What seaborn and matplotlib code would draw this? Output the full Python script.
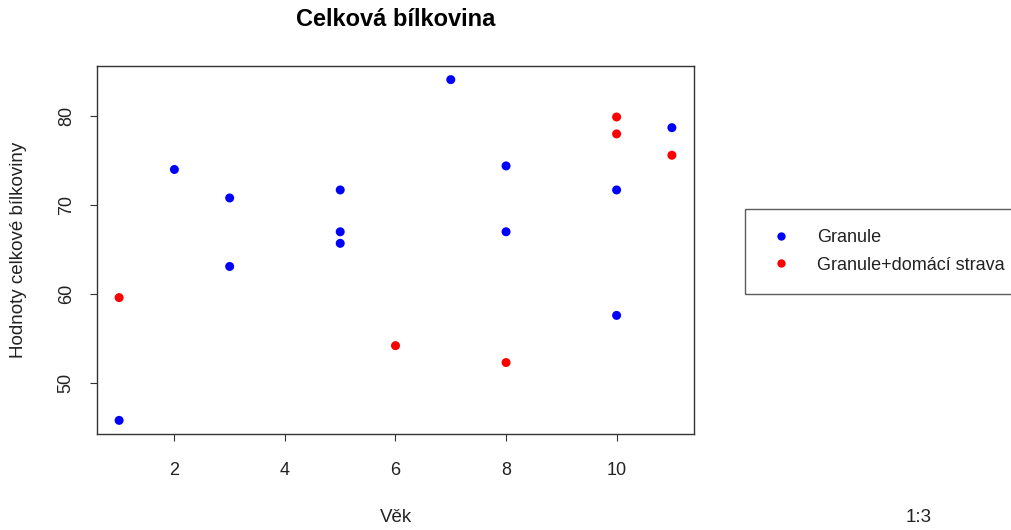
import matplotlib
matplotlib.use("Agg")
import matplotlib.pyplot as plt
from matplotlib.lines import Line2D
import numpy as np
import pandas as pd
import seaborn as sns

# Total protein by age, two diet groups
age_granule = [1, 2, 3, 3, 5, 5, 5, 7, 8, 8, 10, 10, 11]
protein_granule = [45.8, 74.0, 70.8, 63.1, 71.7, 67.0, 65.7, 84.1, 74.4, 67.0, 71.7, 57.6, 78.7]
age_mixed = [1, 6, 8, 10, 10, 11]
protein_mixed = [59.6, 54.2, 52.3, 79.9, 78.0, 75.6]
groups = ["Granule", "Granule+domácí strava"]
colors = ["blue", "red"]
x_ticks = [2, 4, 6, 8, 10]
y_ticks = [50, 60, 70, 80]

df = pd.DataFrame({
    "vek": age_granule + age_mixed,
    "bilkovina": protein_granule + protein_mixed,
    "skupina": [groups[0]] * len(age_granule) + [groups[1]] * len(age_mixed),
})

sns.set_style("white")
plt.rcParams["font.family"] = ["Liberation Sans", "DejaVu Sans"]

W, H = 1012, 530
fig = plt.figure(figsize=(W / 100, H / 100), dpi=100)
ax = fig.add_axes([97 / W, 1 - 434 / H, (694 - 97) / W, (434 - 66) / H])

sns.scatterplot(data=df, x="vek", y="bilkovina", hue="skupina",
                palette=dict(zip(groups, colors)), s=42, linewidth=0,
                legend=False, ax=ax)

# R-style 4% padding on both axes
def padded(v):
    lo, hi = min(v), max(v)
    d = (hi - lo) * 0.04
    return lo - d, hi + d

ax.set_xlim(*padded(df["vek"]))
ax.set_ylim(*padded(df["bilkovina"]))
ax.set_xticks(x_ticks)
ax.set_yticks(y_ticks)
ax.set_xlabel("")
ax.set_ylabel("")
for sp in ax.spines.values():
    sp.set_visible(True)
    sp.set_color("#333333")
    sp.set_linewidth(1.0)
ax.tick_params(axis="both", direction="out", length=5, width=0.8,
               color="#333333", labelsize=13, labelcolor="#222222",
               bottom=True, left=True)
ax.tick_params(axis="x", pad=15)
ax.tick_params(axis="y", pad=11)
for lab in ax.get_yticklabels():
    lab.set_rotation(90)
    lab.set_va("center")

fig.text(396 / W, 1 - 20 / H, "Celková bílkovina", ha="center", va="center",
         fontsize=17, fontweight="bold", color="black")
fig.text(396 / W, 1 - 517 / H, "Věk", ha="center", va="center",
         fontsize=13.5, color="#222222")
fig.text(19 / W, 1 - 250 / H, "Hodnoty celkové bílkoviny", ha="center",
         va="center", rotation=90, fontsize=13.5, color="#222222")
fig.text(919 / W, 1 - 517 / H, "1:3", ha="center", va="center",
         fontsize=13.5, color="#222222")

handles = [Line2D([], [], marker="o", linestyle="none", markersize=6,
                  markerfacecolor=c, markeredgewidth=0) for c in colors]
leg = fig.legend(handles, groups, loc="upper left",
                 bbox_to_anchor=(745 / W, 1 - 209 / H),
                 frameon=True, fancybox=False, fontsize=13,
                 handlelength=1.8, handletextpad=1.1, borderpad=1.1,
                 labelspacing=0.6, borderaxespad=0)
leg.get_frame().set_edgecolor("#333333")
leg.get_frame().set_linewidth(1.0)
for t in leg.get_texts():
    t.set_color("#222222")

fig.savefig("out.png", dpi=100)
